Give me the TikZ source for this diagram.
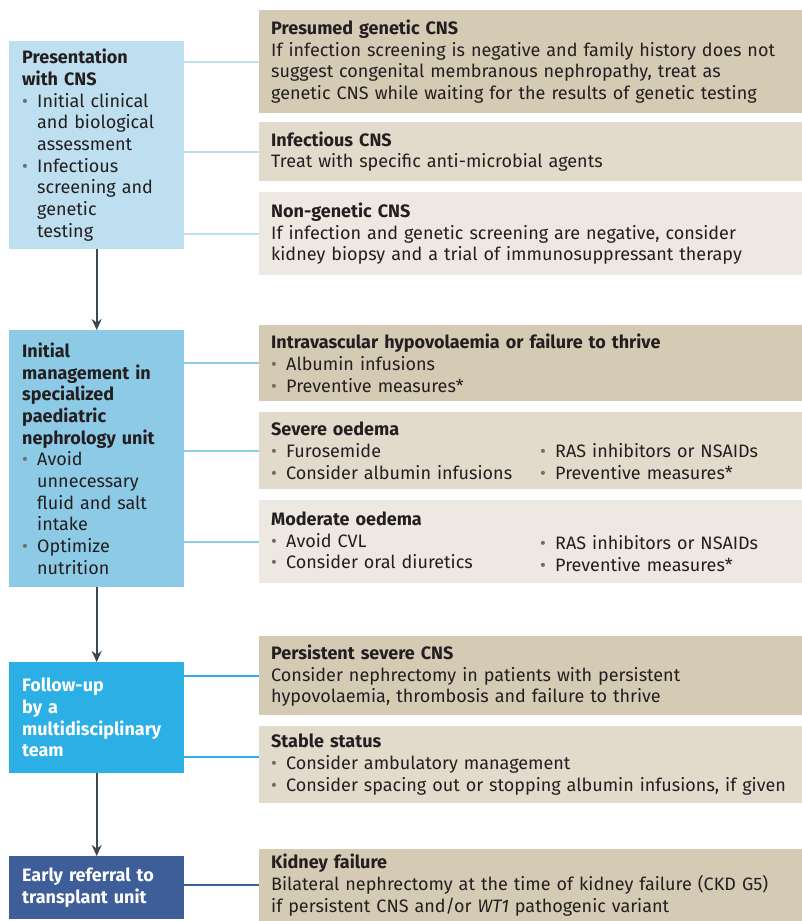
\documentclass[tikz,border=0pt]{standalone}
\usepackage{fontspec}
\setmainfont{Fira Sans}
\usetikzlibrary{arrows.meta,positioning}
\definecolor{ink}{HTML}{231F20}
\definecolor{bulgrey}{HTML}{6E6E6E}
\definecolor{flowgrey}{HTML}{3C4852}
\definecolor{presblue}{HTML}{BEDFEF}
\definecolor{mgmtblue}{HTML}{8DCAE6}
\definecolor{follblue}{HTML}{2CAFE5}
\definecolor{refnavy}{HTML}{3D5E99}
\definecolor{sanddark}{HTML}{D5CAB4}
\definecolor{sandmid}{HTML}{E2DACB}
\definecolor{sandlight}{HTML}{EDE8E1}
\newcommand\bul{\makebox[15pt][l]{\textcolor{bulgrey}{\textbullet}}}
\newcommand\ind{\hspace*{15pt}}
\newcommand\col[1]{\makebox[269pt][l]{#1}}
\newcommand\boxfont{\fontsize{18}{21.7}\selectfont\hyphenpenalty 10000\relax\exhyphenpenalty 10000\relax}
\tikzset{
  stage/.style={font=\boxfont,rectangle,anchor=north west,inner xsep=13pt,inner ysep=0pt,text width=149pt,align=left,text=ink},
  option/.style={font=\boxfont,rectangle,anchor=north west,inner xsep=12pt,inner ysep=0pt,text width=530pt,align=left,text=ink},
  link/.style={line width=2pt},
  flow/.style={line width=2pt,draw=flowgrey,-{Stealth[length=11pt,width=10pt]}}
}
\begin{document}
\begin{tikzpicture}[x=1pt,y=-1pt]
\useasboundingbox(0,0)rectangle(801,921);
\node[stage,fill=presblue,minimum height=208pt](lp)at(9,41){\textbf{Presentation}\\ \textbf{with CNS}\\ \bul Initial clinical\\ \ind and biological\\ \ind assessment\\ \bul Infectious\\ \ind screening and\\ \ind genetic\\ \ind testing};
\node[stage,fill=mgmtblue,minimum height=257pt](lm)at(9,330){\textbf{Initial}\\ \textbf{management in}\\ \textbf{specialized}\\ \textbf{paediatric}\\ \textbf{nephrology unit}\\ \bul Avoid\\ \ind unnecessary\\ \ind fluid and salt\\ \ind intake\\ \bul Optimize\\ \ind nutrition};
\node[stage,fill=follblue,minimum height=111pt,text=white](lf)at(9,662){\bfseries Follow-up\\ by a\\ multidisciplinary\\ team};
\node[stage,fill=refnavy,minimum height=63pt,text=white](lr)at(9,856){\bfseries Early referral to\\ transplant unit};
\node[option,fill=sanddark,minimum height=103pt](rgen)at(259,10){\textbf{Presumed genetic CNS}\\ If infection screening is negative and family history does not\\ suggest congenital membranous nephropathy, treat as\\ genetic CNS while waiting for the results of genetic testing};
\node[option,fill=sandmid,minimum height=59pt](rinf)at(259,122){\textbf{Infectious CNS}\\ Treat with specific anti-microbial agents};
\node[option,fill=sandlight,minimum height=83pt](rnon)at(259,192){\textbf{Non-genetic CNS}\\ If infection and genetic screening are negative, consider\\ kidney biopsy and a trial of immunosuppressant therapy};
\node[option,fill=sanddark,minimum height=76pt](rhyp)at(259,325){\textbf{Intravascular hypovolaemia or failure to thrive}\\ \bul Albumin infusions\\ \bul Preventive measures*};
\node[option,fill=sandmid,minimum height=77pt](rsev)at(259,412){\textbf{Severe oedema}\\ \col{\bul Furosemide}\bul RAS inhibitors or NSAIDs\\ \col{\bul Consider albumin infusions}\bul Preventive measures*};
\node[option,fill=sandlight,minimum height=83pt](rmod)at(259,500){\textbf{Moderate oedema}\\ \col{\bul Avoid CVL}\raisebox{-2.5pt}{\bul RAS inhibitors or NSAIDs}\\ \col{\bul Consider oral diuretics}\raisebox{-2.5pt}{\bul Preventive measures*}};
\node[option,fill=sanddark,minimum height=79pt](rper)at(259,636){\textbf{Persistent severe CNS}\\ Consider nephrectomy in patients with persistent\\ hypovolaemia, thrombosis and failure to thrive};
\node[option,fill=sandmid,minimum height=77pt](rsta)at(259,726){\textbf{Stable status}\\ \bul Consider ambulatory management\\ \bul Consider spacing out or stopping albumin infusions, if given};
\node[option,fill=sanddark,minimum height=72pt](rkid)at(259,849){\textbf{Kidney failure}\\ Bilateral nephrectomy at the time of kidney failure (CKD G5)\\ if persistent CNS and/or \textit{WT1} pathogenic variant};
\draw[link,presblue](lp.east|-rgen.west)--(rgen.west);
\draw[link,presblue](lp.east|-rinf.west)--(rinf.west);
\draw[link,presblue](lp.east|-rnon.west)--(rnon.west);
\draw[link,mgmtblue](lm.east|-rhyp.west)--(rhyp.west);
\draw[link,mgmtblue](lm.east|-rsev.west)--(rsev.west);
\draw[link,mgmtblue](lm.east|-rmod.west)--(rmod.west);
\draw[link,follblue](lf.east|-rper.west)--(rper.west);
\draw[link,follblue]([yshift=7.5pt]lf.east|-rsta.west)--([yshift=7.5pt]rsta.west);
\draw[link,refnavy](lr.east|-rkid.west)--(rkid.west);
\draw[flow](lp)--(lm);
\draw[flow](lm)--(lf);
\draw[flow](lf)--(lr);
\end{tikzpicture}
\end{document}
